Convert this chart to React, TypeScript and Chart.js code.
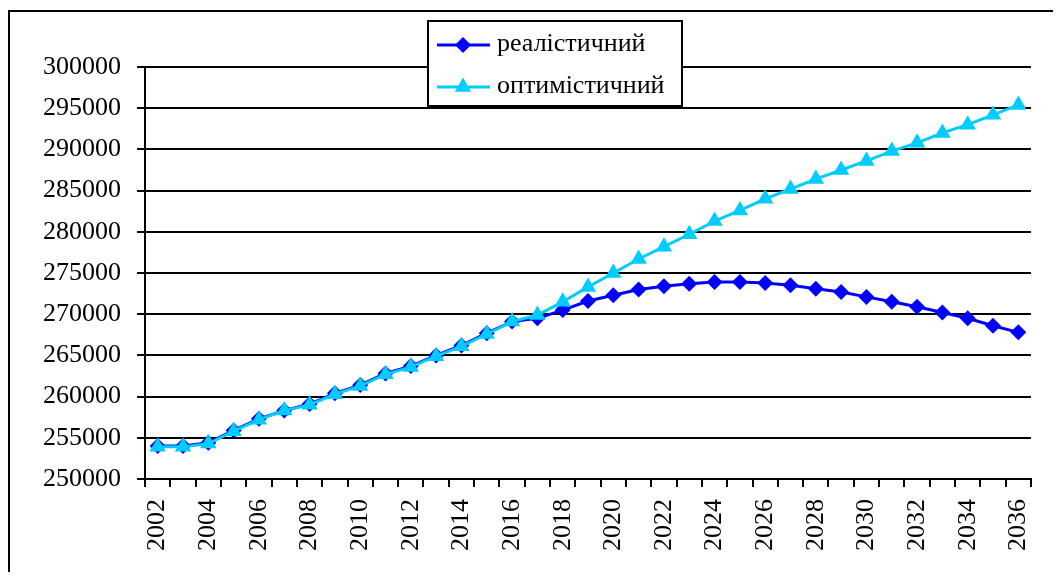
import React, { useEffect, useRef } from "react";
import { Chart, registerables } from "chart.js";

Chart.register(...registerables);

const years = [
  "2002", "2003", "2004", "2005", "2006", "2007", "2008", "2009", "2010", "2011",
  "2012", "2013", "2014", "2015", "2016", "2017", "2018", "2019", "2020", "2021",
  "2022", "2023", "2024", "2025", "2026", "2027", "2028", "2029", "2030", "2031",
  "2032", "2033", "2034", "2035", "2036",
];

const realistic = [
  254000, 254000, 254400, 255900, 257300, 258300, 259100, 260400, 261400, 262800,
  263700, 265000, 266200, 267700, 269100, 269500, 270500, 271600, 272300, 273000,
  273400, 273700, 273900, 273900, 273800, 273500, 273100, 272700, 272100, 271500,
  270900, 270200, 269500, 268600, 267800,
];

const optimistic = [
  253900, 253900, 254300, 255800, 257200, 258300, 259000, 260300, 261300, 262700,
  263600, 264900, 266100, 267600, 269100, 269900, 271500, 273300, 275000, 276700,
  278200, 279700, 281300, 282600, 284000, 285200, 286400, 287500, 288600, 289800,
  290800, 292000, 293000, 294200, 295400,
];

const seriesNames = ["реалістичний", "оптимістичний"];
const yMin = 250000;
const yMax = 300000;
const yStep = 5000;

const FONT = "'Liberation Serif', 'Times New Roman', serif";

function drawMarker(ctx: CanvasRenderingContext2D, style: string, x: number, y: number, r: number) {
  ctx.beginPath();
  if (style === "rectRot") {
    ctx.moveTo(x - r, y);
    ctx.lineTo(x, y - r);
    ctx.lineTo(x + r, y);
    ctx.lineTo(x, y + r);
  } else {
    const s = Math.sqrt(3) / 2;
    ctx.moveTo(x, y - r);
    ctx.lineTo(x + r * s, y + r / 2);
    ctx.lineTo(x - r * s, y + r / 2);
  }
  ctx.closePath();
  ctx.fill();
}

const boxLegend = {
  id: "boxLegend",
  afterDraw(chart: any) {
    const ctx = chart.ctx;
    const x0 = 420, y0 = 13, w = 254, h = 85;
    ctx.save();
    ctx.fillStyle = "#ffffff";
    ctx.fillRect(x0, y0, w, h);
    ctx.strokeStyle = "#000000";
    ctx.lineWidth = 2;
    ctx.strokeRect(x0, y0, w, h);
    chart.data.datasets.forEach((ds: any, i: number) => {
      const cy = y0 + 24 + i * 42;
      ctx.strokeStyle = ds.borderColor;
      ctx.lineWidth = 3;
      ctx.beginPath();
      ctx.moveTo(x0 + 9, cy);
      ctx.lineTo(x0 + 62, cy);
      ctx.stroke();
      ctx.fillStyle = ds.pointBackgroundColor;
      drawMarker(ctx, ds.pointStyle, x0 + 35, cy, ds.pointRadius);
      ctx.fillStyle = "#000000";
      ctx.font = `26px ${FONT}`;
      ctx.textBaseline = "middle";
      ctx.textAlign = "left";
      ctx.fillText(seriesNames[i], x0 + 69, cy - 1);
    });
    ctx.restore();
  },
};

export default function App() {
  const ref = useRef<HTMLCanvasElement>(null);

  useEffect(() => {
    if (!ref.current) return;
    const chart = new Chart(ref.current, {
      type: "line",
      data: {
        labels: years,
        datasets: [
          {
            label: seriesNames[0],
            data: realistic,
            borderColor: "#0000ff",
            backgroundColor: "#0000ff",
            pointBackgroundColor: "#0000ff",
            pointBorderColor: "#0000ff",
            pointStyle: "rectRot",
            pointRadius: 8,
            pointBorderWidth: 0,
            borderWidth: 3,
            tension: 0,
            order: 1,
          },
          {
            label: seriesNames[1],
            data: optimistic,
            borderColor: "#00ccff",
            backgroundColor: "#00ccff",
            pointBackgroundColor: "#00ccff",
            pointBorderColor: "#00ccff",
            pointStyle: "triangle",
            pointRadius: 9.5,
            pointBorderWidth: 0,
            borderWidth: 3,
            tension: 0,
            order: 0,
          },
        ],
      },
      options: {
        animation: false,
        responsive: false,
        maintainAspectRatio: false,
        layout: { padding: { left: 0, top: 59, right: 22, bottom: 0 } },
        plugins: {
          legend: { display: false },
          tooltip: { enabled: false },
        },
        scales: {
          x: {
            type: "category",
            offset: true,
            afterFit(scale: any) {
              scale.height = 93;
              scale.paddingLeft = 0;
              scale.paddingRight = 0;
            },
            grid: {
              offset: true,
              drawOnChartArea: false,
              drawTicks: true,
              tickLength: 8,
              color: "#000000",
              lineWidth: 2,
            },
            border: { display: true, color: "#000000", width: 2 },
            ticks: {
              autoSkip: false,
              minRotation: 90,
              maxRotation: 90,
              padding: 12,
              color: "#000000",
              font: { family: FONT, size: 26 },
              callback: (_v: any, i: number) => (i % 2 === 0 ? years[i] : ""),
            },
          },
          y: {
            min: yMin,
            max: yMax,
            afterFit(scale: any) {
              scale.width = 137;
              scale.paddingTop = 0;
              scale.paddingBottom = 0;
            },
            grid: {
              color: "#000000",
              lineWidth: 2,
              tickLength: 8,
              drawTicks: true,
            },
            border: { display: true, color: "#000000", width: 2 },
            ticks: {
              stepSize: yStep,
              padding: 16,
              color: "#000000",
              font: { family: FONT, size: 26 },
              callback: (v: any) => String(v),
            },
          },
        },
      },
      plugins: [boxLegend],
    });
    return () => chart.destroy();
  }, []);

  return (
    <div style={{ position: "relative", width: 1045, height: 564, overflow: "hidden" }}>
      <div
        style={{
          position: "absolute",
          left: 0,
          top: 2,
          width: 1200,
          height: 800,
          border: "2px solid #000",
          boxSizing: "border-box",
        }}
      />
      <canvas ref={ref} width={1045} height={564} style={{ position: "absolute", left: 0, top: 0 }} />
    </div>
  );
}
